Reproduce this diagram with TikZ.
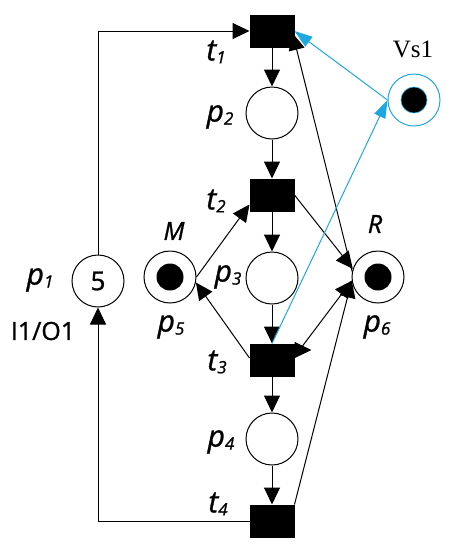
\documentclass[tikz,border=0pt]{standalone}
\usepackage{fontspec}
\setmainfont{Open Sans}
\newfontfamily\labfont{Open Sans}[FakeBold=1]
\newfontfamily\serifVs{Liberation Serif}
\usetikzlibrary{arrows.meta,calc}
\definecolor{linkblue}{RGB}{30,168,224}
\newcommand{\lbl}[2]{{\labfont\fontsize{30}{30}\selectfont\itshape #1\raisebox{-3pt}{\fontsize{17}{17}\selectfont #2}}}
\begin{document}
\begin{tikzpicture}[x=1pt,y=-1pt,line width=1pt,
  trans/.style={draw,fill=black,minimum width=44pt,minimum height=32pt,inner sep=0pt},
  place/.style={draw,circle,minimum size=52pt,inner sep=0pt},
  tok/.style={circle,fill=black,minimum size=27pt,inner sep=0pt},
  arr/.style={-{Triangle[length=17pt,width=16pt]}},
  barr/.style={draw=linkblue,-{Triangle[length=18pt,width=12pt]}},
  lab/.style={inner sep=0pt}]
\useasboundingbox (0,0) rectangle (457,550);
% transitions
\node[trans] (t1) at (272,31) {};
\node[trans] (t2) at (272,195) {};
\node[trans] (t3) at (272,360) {};
\node[trans] (t4) at (272,521) {};
% places
\node[place] (p1) at (98,281) {\labfont\fontsize{26}{26}\selectfont 5};
\node[place] (p2) at (272,113) {};
\node[place] (p3) at (272,278) {};
\node[place] (p4) at (272,439) {};
\node[place] (p5) at (170,277) {};
\node[tok] (k5) at (p5) {};
\node[place] (p6) at (378,277) {};
\node[tok] (k6) at (p6) {};
\node[place,draw=linkblue] (vs) at (414,100) {};
\node[tok,draw=linkblue,line width=0.6pt,minimum size=26pt] (kv) at (vs) {};
% labels
\node[lab] (lt1) at (216,52) {\lbl{t}{1}};
\node[lab] (lp2) at (220,117) {\lbl{p}{2}};
\node[lab] (lt2) at (216,201) {\lbl{t}{2}};
\node[lab] (lp3) at (228,277) {\lbl{p}{3}};
\node[lab] (lt3) at (217,362) {\lbl{t}{3}};
\node[lab] (lp4) at (221,442) {\lbl{p}{4}};
\node[lab] (lt4) at (218,504) {\lbl{t}{4}};
\node[lab] (lp1) at (40,280) {\lbl{p}{1}};
\node[lab] (lio) at (43,331) {\labfont\fontsize{25}{25}\selectfont I1/O1};
\node[lab] (lp5) at (171,327) {\lbl{p}{5}};
\node[lab] (lp6) at (377,327) {\lbl{p}{6}};
\node[lab] (lM) at (174,231) {\labfont\fontsize{25}{25}\selectfont\itshape M};
\node[lab] (lR) at (375,224) {\labfont\fontsize{25}{25}\selectfont\itshape R};
\node[lab] (lvs) at (413,49) {\serifVs\fontsize{25}{25}\selectfont Vs1};
% coordinates
\coordinate (c1) at (98,31);
\coordinate (c4) at (98,521);
\coordinate (t1tip) at ($(t1.east)+(-2,2)$);
\coordinate (t2in) at ($(t2.south west)+(0,-7)$);
\coordinate (t3out) at ($(t3.west)+(0,-2)$);
\coordinate (t3r) at ($(t3.east)+(8,-14)$);
\coordinate (t3a) at ($(t3.east)+(0,-10)$);
% arcs
\draw[arr] (p1.north) -- (c1) -- (t1.west);
\draw[arr] (t4.west) -- (c4) -- (p1.south);
\draw[arr] (t1) -- (p2);
\draw[arr] (p2) -- (t2);
\draw[arr] (t2) -- (p3);
\draw[arr] (p3) -- (t3);
\draw[arr] (t3) -- (p4);
\draw[arr] (p4) -- (t4);
\draw[arr] (p5.east) -- (t2in);
\draw[arr] (t3out) -- (p5.-12);
\draw[arr] (t2.east) -- (p6.162);
\draw[arr] (p6.168) -- (t1tip);
\draw[arr] (t4.north east) -- (p6.188);
\draw[arr] (t3r) -- (p6.188);
\draw[arr] (t3a) -- ++(17,0);
% blue arcs
\draw[barr] (t3.north) -- (vs.west);
\draw[barr] (vs.west) -- (t1.east);
\end{tikzpicture}
\end{document}
